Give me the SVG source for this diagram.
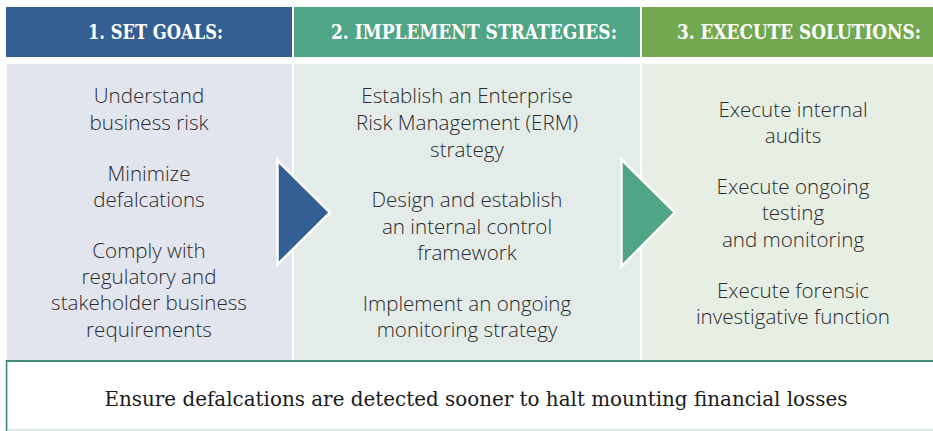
<svg xmlns="http://www.w3.org/2000/svg" width="933" height="431" viewBox="0 0 933 431">
<style>
.hdr{font-family:"Roboto Slab","DejaVu Serif","Liberation Serif",serif;font-weight:bold;font-size:20px;fill:#ffffff;text-anchor:middle}
.body{font-family:"Open Sans","Noto Sans",sans-serif;font-weight:300;font-size:20.6px;fill:#2b2b2b;text-anchor:middle}
.foot{font-family:"Roboto Slab","DejaVu Serif","Liberation Serif",serif;font-size:19.5px;fill:#1a1a1a;text-anchor:middle}
.arrow{stroke:#ffffff;stroke-width:2.5;stroke-linejoin:miter}
</style>
<rect x="0" y="0" width="933" height="431" fill="#ffffff"/>
<g id="col1">
<rect x="6" y="7" width="286" height="50" fill="#355f92"/>
<text class="hdr" x="155.5" y="39" textLength="135" lengthAdjust="spacingAndGlyphs">1. SET GOALS:</text>
<rect x="7" y="64" width="285" height="296" fill="#e2e5ee"/>
<text class="body" x="149" y="103">Understand</text>
<text class="body" x="149" y="130">business risk</text>
<text class="body" x="149" y="181">Minimize</text>
<text class="body" x="149" y="207">defalcations</text>
<text class="body" x="149" y="258">Comply with</text>
<text class="body" x="149" y="284">regulatory and</text>
<text class="body" x="149" y="310">stakeholder business</text>
<text class="body" x="149" y="337">requirements</text>
</g>
<g id="col2">
<rect x="294" y="7" width="346" height="50" fill="#4fa585"/>
<text class="hdr" x="474" y="39" textLength="286" lengthAdjust="spacingAndGlyphs">2. IMPLEMENT STRATEGIES:</text>
<rect x="294" y="64" width="346" height="296" fill="#e3ece9"/>
<text class="body" x="467" y="103">Establish an Enterprise</text>
<text class="body" x="467" y="130">Risk Management (ERM)</text>
<text class="body" x="467" y="157">strategy</text>
<text class="body" x="467" y="207">Design and establish</text>
<text class="body" x="467" y="234">an internal control</text>
<text class="body" x="467" y="260">framework</text>
<text class="body" x="467" y="311">Implement an ongoing</text>
<text class="body" x="467" y="337">monitoring strategy</text>
</g>
<g id="col3">
<rect x="642" y="7" width="291" height="50" fill="#72a850"/>
<text class="hdr" x="799" y="39" textLength="244" lengthAdjust="spacingAndGlyphs">3. EXECUTE SOLUTIONS:</text>
<rect x="642" y="64" width="291" height="296" fill="#e7efe4"/>
<text class="body" x="793" y="117">Execute internal</text>
<text class="body" x="793" y="143">audits</text>
<text class="body" x="793" y="194">Execute ongoing</text>
<text class="body" x="793" y="220">testing</text>
<text class="body" x="793" y="247">and monitoring</text>
<text class="body" x="793" y="298">Execute forensic</text>
<text class="body" x="793" y="324">investigative function</text>
</g>
<g id="footer">
<rect x="7" y="361" width="927" height="69" fill="#ffffff" stroke="#cfe3dc" stroke-width="1.5"/>
<line x1="6" y1="361" x2="933" y2="361" stroke="#3f8a70" stroke-width="2"/>
<line x1="6.5" y1="360" x2="6.5" y2="431" stroke="#3f8a70" stroke-width="1.5"/>
<text class="foot" x="476" y="406" textLength="743" lengthAdjust="spacingAndGlyphs">Ensure defalcations are detected sooner to halt mounting financial losses</text>
</g>
<g id="connectors">
<polygon class="arrow" points="277.5,160.5 330,212.5 277.5,264.5" fill="#345f94"/>
<polygon class="arrow" points="621.5,159.5 675,212.5 621.5,266.5" fill="#4fa585"/>
</g>
</svg>
